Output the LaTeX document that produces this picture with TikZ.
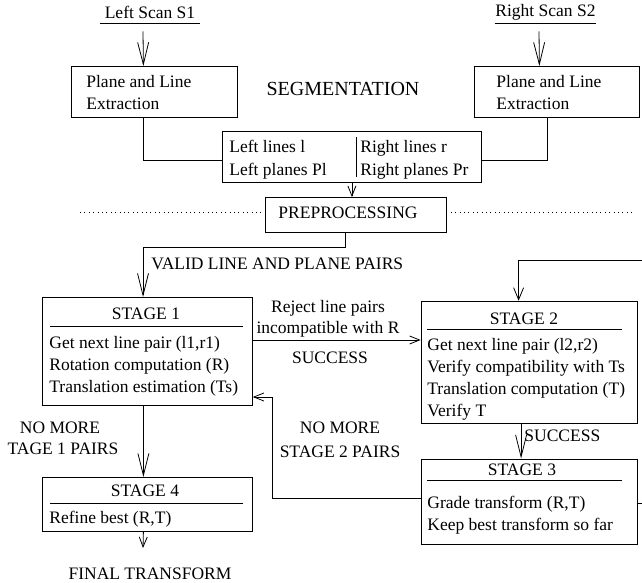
\documentclass[tikz,border=0pt]{standalone}
\usepackage{fontspec}
\setmainfont{Liberation Serif}
\usetikzlibrary{arrows.meta}
\begin{document}
\begin{tikzpicture}[x=1pt,y=-1pt,line width=0.8pt,
  every node/.style={font=\fontsize{17.5}{21}\selectfont, inner sep=0pt},
  lbl/.style={anchor=base west},
  ctr/.style={anchor=base},
  box/.style={draw, anchor=north west, inner sep=0pt},
  longtip/.style={-{Straight Barb[length=22pt,width=11pt]}},
  midtip/.style={-{Straight Barb[length=12pt,width=10pt]}},
  shorttip/.style={-{Straight Barb[length=10pt,width=8pt]}},
  dots/.style={line width=0.6pt, dash pattern=on 0.8pt off 3.6pt}]
\useasboundingbox (0,0) rectangle (642,583);

% inputs
\node[minimum width=100pt, minimum height=22pt] (s1) at (150,12) {Left Scan S1};
\draw (s1.south west) -- (s1.south east);
\node[minimum width=101pt, minimum height=22pt] (s2) at (545.5,12) {Right Scan S2};
\draw (s2.south west) -- (s2.south east);

% extraction boxes
\node[box, minimum width=166pt, minimum height=51pt] (pe1) at (71,66) {};
\node[lbl] (pe1a) at (86,88) {Plane and Line};
\node[lbl] (pe1b) at (86,110) {Extraction};
\node[box, minimum width=165pt, minimum height=51pt] (pe2) at (474,66) {};
\node[lbl] (pe2a) at (496,88) {Plane and Line};
\node[lbl] (pe2b) at (496,110) {Extraction};

\draw[longtip] ([xshift=-7pt,yshift=-8pt]s1.south) -- ([xshift=-11pt]pe1.north);
\draw[longtip] ([xshift=-6.5pt,yshift=-8pt]s2.south) -- ([xshift=-17.5pt]pe2.north);

\node (seg) at (343,89) {\fontsize{20}{24}\selectfont SEGMENTATION};

% lines / planes box
\node[box, minimum width=259pt, minimum height=51pt] (lp) at (222,131) {};
\draw (356,137) -- (356,177);
\node[lbl] (lpa) at (229,153) {Left lines l};
\node[lbl] (lpb) at (229,175) {Left planes Pl};
\node[lbl] (lpc) at (360,153) {Right lines r};
\node[lbl] (lpd) at (360,175) {Right planes Pr};

\draw ([xshift=-11pt]pe1.south) |- ([yshift=-3.5pt]lp.west);
\draw ([xshift=-9.5pt]pe2.south) |- ([yshift=-3.5pt]lp.east);

% preprocessing
\node[box, minimum width=181pt, minimum height=35pt] (pp) at (265,197) {};
\node (ppt) at (348,213) {PREPROCESSING};
\draw[shorttip] (lp.south) -- (lp.south |- pp.north);
\coordinate (dl) at (80,212);
\coordinate (dr) at (633,212);
\draw[dots] (dl) -- ([xshift=-4pt]dl -| pp.west);
\draw[dots] ([xshift=4pt]dr -| pp.east) -- (dr);

% to stage 1
\coordinate (vj) at (143,247);
\draw[longtip] ([xshift=-10.5pt]pp.south) |- (vj) -- (vj |- 0,297);
\node[lbl] (valid) at (151,269) {VALID LINE AND PLANE PAIRS};

% stage 1
\node[box, minimum width=210pt, minimum height=108pt] (st1) at (42,297) {};
\node[ctr] (st1t) at (146,319) {STAGE 1};
\draw (50,326) -- (243,326);
\node[lbl] (st1a) at (49,348) {Get next line pair (l1,r1)};
\node[lbl] (st1b) at (49,370) {Rotation computation (R)};
\node[lbl] (st1c) at (49,392) {Translation estimation (Ts)};

% stage 2
\node[box, minimum width=216pt, minimum height=122pt] (st2) at (420.7,300.7) {};
\node[ctr] (st2t) at (524,324) {STAGE 2};
\draw (427,329) -- (622,329);
\node[lbl] (st2a) at (427,350) {Get next line pair (l2,r2)};
\node[lbl] (st2b) at (427,372) {Verify compatibility with Ts};
\node[lbl] (st2c) at (427,394) {Translation computation (T)};
\node[lbl] (st2d) at (427,416) {Verify T};

\coordinate (ya) at (0,340);
\draw[shorttip] (st1.east |- ya) -- (st2.west |- ya);
\node[ctr] (rj1) at (328,312) {Reject line pairs};
\node[ctr] (rj2) at (328,333) {incompatible with R};
\node[ctr] (suc1) at (330,363) {SUCCESS};

\coordinate (in2) at (642,260);
\draw[midtip] (in2) -| ([xshift=-10.5pt]st2.north);

% stage 3
\node[box, minimum width=216pt, minimum height=85pt] (st3) at (420.7,458.5) {};
\node[ctr] (st3t) at (522,475) {STAGE 3};
\draw (427,480) -- (622,480);
\node[lbl] (st3a) at (427,508) {Grade transform (R,T)};
\node[lbl] (st3b) at (427,530) {Keep best transform so far};

\draw[longtip] ([xshift=-8pt]st2.south) -- ([xshift=-8pt]st3.north);
\node[lbl] (suc2) at (524,441) {SUCCESS};

\coordinate (out3) at (642,503);
\draw (st3.east |- out3) -- (out3);

\coordinate (fb) at (272,498);
\coordinate (fb2) at (272,397);
\draw[shorttip] (st3.west |- fb) -- (fb) -- (fb2) -- (st1.east |- fb2);
\node[ctr] (nm2a) at (340,433) {NO MORE};
\node[ctr] (nm2b) at (340,457) {STAGE 2 PAIRS};

% stage 4
\node[ctr] (nm1a) at (60,433) {NO MORE};
\node[ctr] (nm1b) at (63,454) {TAGE 1 PAIRS};
\node[box, minimum width=210pt, minimum height=54pt] (st4) at (42,477) {};
\node[ctr] (st4t) at (145,496) {STAGE 4};
\draw (50,503) -- (243,503);
\node[lbl] (st4a) at (49,523) {Refine best (R,T)};
\draw[longtip] ([xshift=-4pt]st1.south) -- ([xshift=-4pt]st4.north);

\coordinate (fe) at (143,548);
\draw[shorttip] ([xshift=-4pt]st4.south) -- (fe);
\node[ctr] (fin) at (150,579) {FINAL TRANSFORM};
\end{tikzpicture}
\end{document}
